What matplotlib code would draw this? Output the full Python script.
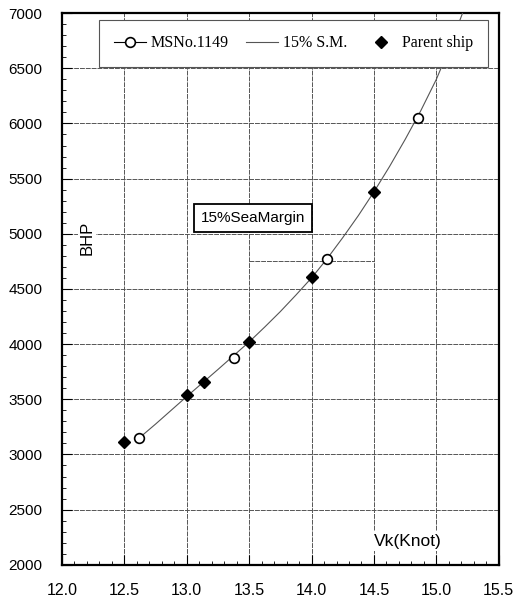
import matplotlib.pyplot as plt
import numpy as np
from matplotlib.lines import Line2D

# Data
ms_speed = [12.62, 13.38, 14.12, 14.85]          # MSNo.1149 (open circles)
ms_bhp = [3150, 3870, 4775, 6045]

parent_speed = [12.5, 13.0, 13.14, 13.5, 14.0, 14.5]   # Parent ship (diamonds)
parent_bhp = [3110, 3540, 3660, 4020, 4605, 5380]

# 15% sea margin curve
sm_speed = [12.62, 12.75, 13.0, 13.25, 13.5, 13.625, 13.75, 13.875, 14.0, 14.125,
            14.25, 14.375, 14.5, 14.625, 14.75, 14.875, 15.0, 15.1, 15.21]
sm_bhp = [3150, 3275, 3525, 3770, 4020, 4155, 4295, 4445, 4600, 4775,
          4965, 5165, 5380, 5610, 5855, 6115, 6400, 6670, 7000]

plt.rcParams['font.family'] = ['Liberation Sans', 'DejaVu Sans']

fig = plt.figure(figsize=(5.25, 5.97), dpi=100)
ax = fig.add_axes([0.118, 0.054, 0.832, 0.924])

ax.set_xlim(12.0, 15.5)
ax.set_ylim(2000, 7000)
ax.set_xticks(np.arange(12.0, 15.51, 0.5))
ax.set_yticks(np.arange(2000, 7001, 500))
ax.set_xticks(np.arange(12.0, 15.51, 0.1), minor=True)
ax.set_yticks(np.arange(2000, 7001, 100), minor=True)
ax.xaxis.set_major_formatter(plt.FormatStrFormatter('%.1f'))
ax.tick_params(which='major', direction='in', length=7, width=0.8, labelsize=11)
ax.tick_params(axis='x', which='major', pad=13, labelsize=11.5)
ax.tick_params(axis='y', which='major', pad=14)
ax.tick_params(which='minor', direction='in', length=3, width=0.6)

ax.grid(True, which='major', color='#555555', linestyle=(0, (5, 1)), linewidth=0.7)
ax.hlines(4750, 13.5, 14.5, color='#555555', linestyle=(0, (5, 1)), linewidth=0.7)

for s in ax.spines.values():
    s.set_linewidth(1.6)

# curve and points
ax.plot(sm_speed, sm_bhp, color='#555555', linewidth=0.8, zorder=3)
ax.plot(ms_speed, ms_bhp, 'o', markersize=7, markerfacecolor='white',
        markeredgecolor='black', markeredgewidth=1.2, zorder=4)
ax.plot(parent_speed, parent_bhp, 'D', markersize=6.5, color='black', zorder=4)

# text labels
ax.text(12.2, 4960, 'BHP', rotation=90, ha='center', va='center', fontsize=12,
        bbox=dict(facecolor='white', edgecolor='none', pad=1), zorder=5)
ax.text(14.77, 2215, 'Vk(Knot)', ha='center', va='center', fontsize=12.5,
        bbox=dict(facecolor='white', edgecolor='none', pad=2), zorder=5)
ax.text(13.53, 5145, '15%SeaMargin', ha='center', va='center', fontsize=11,
        bbox=dict(facecolor='white', edgecolor='black', linewidth=1.3, pad=5), zorder=5)

# legend
handles = [
    Line2D([], [], color='black', linewidth=0.8, marker='o', markersize=7,
           markerfacecolor='white', markeredgewidth=1.2),
    Line2D([], [], color='#555555', linewidth=0.8),
    Line2D([], [], linestyle='none', marker='D', markersize=6.5, color='black'),
]
leg = ax.legend(handles, ['MSNo.1149', '15% S.M.', 'Parent ship'],
                loc='upper right', bbox_to_anchor=(0.975, 0.987), borderaxespad=0,
                ncol=3, fancybox=False, framealpha=1, edgecolor='#555555',
                prop={'family': 'Liberation Serif', 'size': 11.5},
                handlelength=2.0, columnspacing=1.1, borderpad=0.95, handletextpad=0.3)
leg.get_frame().set_linewidth(0.8)
leg.set_zorder(6)

fig.savefig('out.png', dpi=100)
